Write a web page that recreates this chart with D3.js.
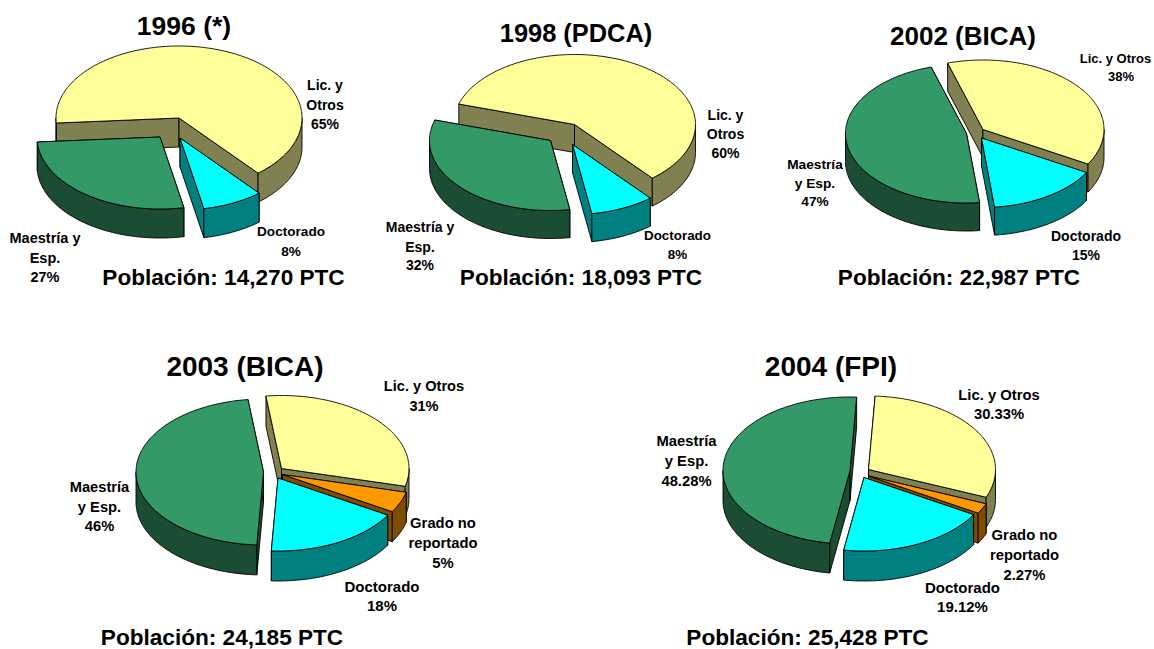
<!DOCTYPE html>
<html>
<head>
<meta charset="utf-8">
<script src="https://cdn.jsdelivr.net/npm/d3@7/dist/d3.min.js"></script>
<style>
html,body{margin:0;padding:0;background:#fff}
svg{display:block}
text{font-family:"Liberation Sans",Arial,sans-serif;font-weight:bold;fill:#000;text-anchor:middle}
</style>
</head>
<body>
<svg id="chart" width="1154" height="649"></svg>
<script>
// ---- data ----
const years = ["1996 (*)", "1998 (PDCA)", "2002 (BICA)", "2003 (BICA)", "2004 (FPI)"];
const populations = ["Población: 14,270 PTC", "Población: 18,093 PTC", "Población: 22,987 PTC", "Población: 24,185 PTC", "Población: 25,428 PTC"];
const categories3 = ["lic", "doc", "mae"];
const categories4 = ["lic", "gra", "doc", "mae"];
const values1996 = [65, 8, 27];
const values1998 = [60, 8, 32];
const values2002 = [38, 15, 47];
const values2003 = [31, 5, 18, 46];
const values2004 = [30.33, 2.27, 19.12, 48.28];
const labels1996 = [["Lic. y", "Otros", "65%"], ["Doctorado", "8%"], ["Maestría y", "Esp.", "27%"]];
const labels1998 = [["Lic. y", "Otros", "60%"], ["Doctorado", "8%"], ["Maestría y", "Esp.", "32%"]];
const labels2002 = [["Lic. y Otros", "38%"], ["Doctorado", "15%"], ["Maestría", "y Esp.", "47%"]];
const labels2003 = [["Lic. y Otros", "31%"], ["Grado no", "reportado", "5%"], ["Doctorado", "18%"], ["Maestría", "y Esp.", "46%"]];
const labels2004 = [["Lic. y Otros", "30.33%"], ["Grado no", "reportado", "2.27%"], ["Doctorado", "19.12%"], ["Maestría", "y Esp.", "48.28%"]];

// ---- styling ----
const topColor = {lic: "#FFFF99", gra: "#FF9900", doc: "#00FFFF", mae: "#339966"};
const sideColor = {lic: "#808050", gra: "#804D00", doc: "#008080", mae: "#1A4D33"};

// ---- layout: pie geometry, explode offsets, perspective nudges (degrees) and label anchors ----
const layouts = [
  {cats: categories3, values: values1996, labels: labels1996,
   cx: 179, cy: 118, rx: 123, ry: 72, depth: 29, start: 266,
   off: [[0, 0], [1, 20], [-19, 19]],
   nudge: [[0, 0], [0, 0], [0, 0]],
   title: [184, 35, 26.5], pop: [223.5, 285],
   lab: [[325, [90, 110, 129], 14], [291, [236, 256], 13.6], [45, [243, 263, 282], 14.5]]},
  {cats: categories3, values: values1998, labels: labels1998,
   cx: 574.5, cy: 124.5, rx: 121, ry: 70, depth: 28, start: 286,
   off: [[0, 0], [-2, 20], [-24, 16]],
   nudge: [[1, -2], [-2, 0], [0, 1]],
   title: [576, 42, 25.4], pop: [581, 285],
   lab: [[725.5, [120, 139, 158], 14], [677.5, [240, 259], 13.4], [420, [232, 252, 270], 14]]},
  {cats: categories3, values: values2002, labels: labels2002,
   cx: 983, cy: 129.5, rx: 121, ry: 69.5, depth: 28, start: 343,
   off: [[0, 0], [-1.5, 8.5], [-16.5, 4]],
   nudge: [[0, 0], [0, 0], [0, 0]],
   title: [963, 45, 26], pop: [959, 284.5],
   lab: [[1115.5, [63, 81], 13, 5.5], [1086, [241, 260], 14], [815, [169, 188, 206], 13.7]]},
  {cats: categories4, values: values2003, labels: labels2003,
   cx: 281.5, cy: 468.5, rx: 127.5, ry: 73, depth: 30, start: 351,
   off: [[0, 0], [1, 6], [-3.5, 9.5], [-18, 3.5]],
   nudge: [[2, 1.5], [1.5, 0], [0, -2.4], [-2.4, 2]],
   title: [245, 376, 28], pop: [222, 645],
   lab: [[424, [391, 411], 14.6], [443, [528, 548, 568], 14.8], [382, [592, 611], 15], [99.5, [492, 512, 531], 14.7]]},
  {cats: categories4, values: values2004, labels: labels2004,
   cx: 868.5, cy: 469.5, rx: 127, ry: 73.5, depth: 30, start: 3,
   off: [[0, 0], [0, 6.5], [-4.5, 8], [-18.5, 1]],
   nudge: [[0, 0], [0, 0], [0, 0], [0, 0]],
   title: [831, 376, 28], pop: [807.5, 645],
   lab: [[999, [400, 419], 14.8], [1024.5, [540, 560, 580], 14.8], [962.5, [593, 612], 15], [686.5, [446, 466, 486], 14.8]]}
];

const svg = d3.select("#chart");
const rad = Math.PI / 180;

function ellipsePoints(a0, a1) {
  const n = Math.max(1, Math.ceil((a1 - a0) / rad));
  return d3.range(n + 1).map(i => {
    const a = a0 + (a1 - a0) * i / n;
    return [Math.sin(a), -Math.cos(a)];
  });
}

// portions of [a0,a1] on the front half of the ellipse (90..270 degrees, any turn)
function frontRanges(a0, a1) {
  const out = [];
  for (let k = -1; k <= 2; k++) {
    const lo = Math.max(a0, (90 + 360 * k) * rad);
    const hi = Math.min(a1, (270 + 360 * k) * rad);
    if (hi > lo) out.push([lo, hi]);
  }
  return out;
}

layouts.forEach((p, pi) => {
  const start = p.start * rad;
  const pie = d3.pie().sort(null).startAngle(start).endAngle(start + 2 * Math.PI);
  const arcs = pie(p.values).map((d, i) => ({
    cat: p.cats[i], off: p.off[i],
    startAngle: d.startAngle + p.nudge[i][0] * rad,
    endAngle: d.endAngle + p.nudge[i][1] * rad,
    mid: (d.startAngle + d.endAngle) / 2
  }));
  const order = arcs.slice().sort((a, b) => -Math.cos(a.mid) + Math.cos(b.mid));
  const g = svg.append("g").attr("stroke", "#000").attr("stroke-width", 0.9).attr("stroke-linejoin", "round");

  order.forEach(d => {
    const x = d3.scaleLinear().domain([-1, 1]).range([p.cx + d.off[0] - p.rx, p.cx + d.off[0] + p.rx]);
    const y = d3.scaleLinear().domain([-1, 1]).range([p.cy + d.off[1] - p.ry, p.cy + d.off[1] + p.ry]);
    const line = d3.line().x(q => x(q[0])).y(q => y(q[1]) + (q[2] || 0));
    const closed = pts => line(pts) + "Z";
    const edge = a => {
      const e = [Math.sin(a), -Math.cos(a)];
      return [[0, 0], e, [e[0], e[1], p.depth], [0, 0, p.depth]];
    };
    // cut faces
    [d.startAngle, d.endAngle].forEach(a => {
      g.append("path").attr("d", closed(edge(a))).attr("fill", sideColor[d.cat]);
    });
    // outer wall
    frontRanges(d.startAngle, d.endAngle).forEach(([a0, a1]) => {
      const rim = ellipsePoints(a0, a1);
      const low = rim.slice().reverse().map(q => [q[0], q[1], p.depth]);
      g.append("path").attr("d", closed(rim.concat(low))).attr("fill", sideColor[d.cat]);
    });
    // top
    const top = [[0, 0]].concat(ellipsePoints(d.startAngle, d.endAngle));
    g.append("path").attr("d", closed(top)).attr("fill", topColor[d.cat]);
  });

  // texts
  svg.append("text").attr("x", p.title[0]).attr("y", p.title[1]).attr("font-size", p.title[2]).text(years[pi]);
  svg.append("text").attr("x", p.pop[0]).attr("y", p.pop[1]).attr("font-size", 22.6).text(populations[pi]);
  p.labels.forEach((lines, i) => {
    const [lx, ys, fs, shift] = p.lab[i];
    lines.forEach((s, j) => {
      svg.append("text").attr("x", j > 0 && shift ? lx + shift : lx).attr("y", ys[j]).attr("font-size", fs).text(s);
    });
  });
});
</script>
</body>
</html>
